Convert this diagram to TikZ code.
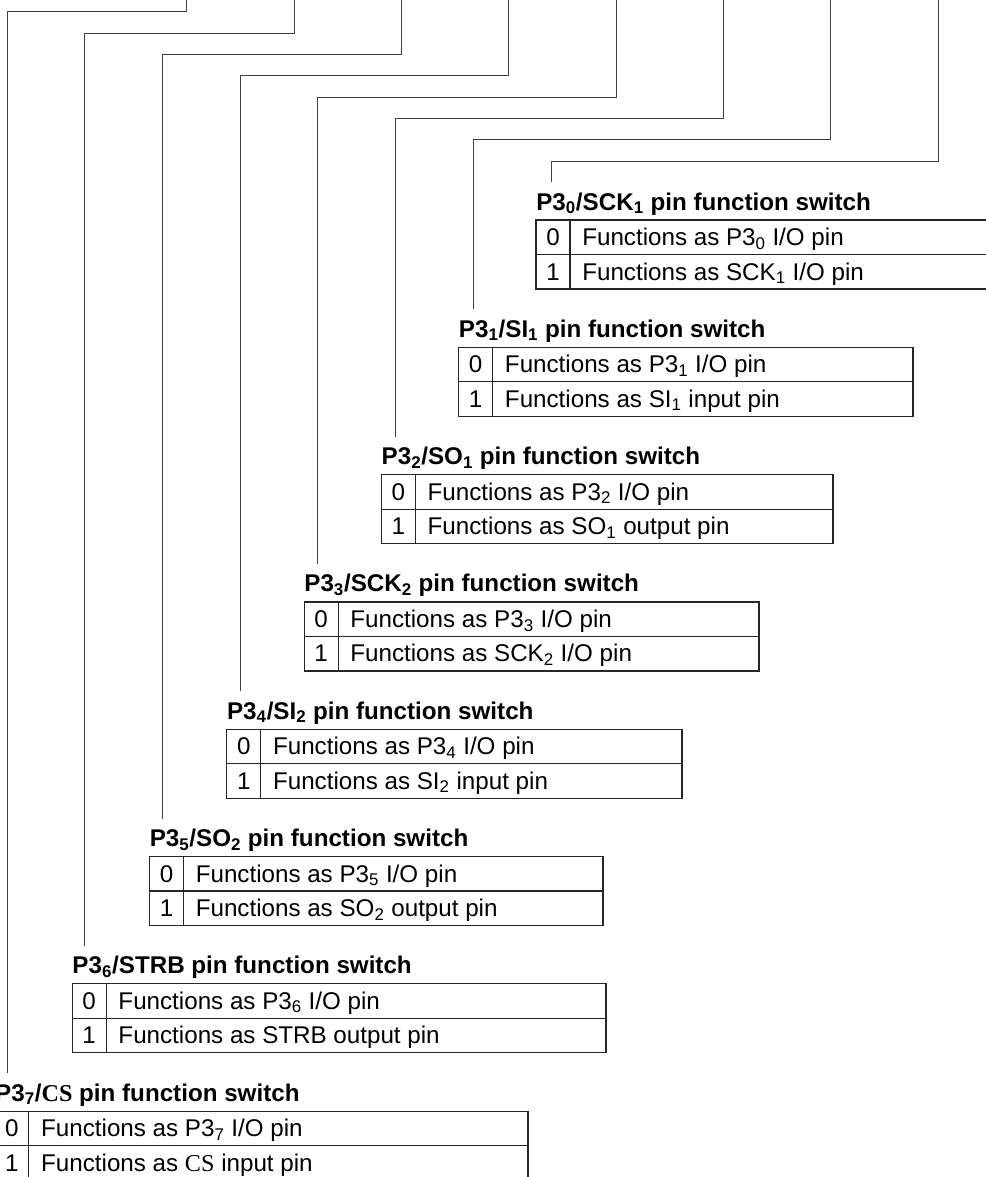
\documentclass[tikz,border=0pt]{standalone}
\usepackage{fontspec}
\setmainfont{Liberation Sans}
\newfontfamily\csfont{Liberation Serif}

\begin{document}
\begin{tikzpicture}[
    x=0.25mm, y=-0.25mm,
    every node/.style={font=\fontsize{17.2}{20}\selectfont, inner sep=0pt},
    title/.style={font=\fontsize{17.2}{20}\selectfont\bfseries, anchor=base west},
    cell/.style={anchor=base west},
    bit/.style={anchor=base},
    lead/.style={black!75, line width=0.7pt},
    grid/.style={black!85, line width=0.85pt},
]

\useasboundingbox (0,0) rectangle (985,1177);

% ============================================================
% ONE BLOCK PER BIT: leader line, title, two-row table
% ============================================================
\foreach \i/\sig/\kind/\rx in {
    0/{SCK\textsubscript{1}}/{I/O}/995,
    1/{SI\textsubscript{1}}/{input}/913,
    2/{SO\textsubscript{1}}/{output}/833,
    3/{SCK\textsubscript{2}}/{I/O}/759,
    4/{SI\textsubscript{2}}/{input}/682,
    5/{SO\textsubscript{2}}/{output}/603,
    6/{STRB}/{output}/606,
    7/{{\csfont CS}}/{input}/528} {
    \pgfmathsetmacro{\L}{536-77.3*\i}   % table left
    \pgfmathsetmacro{\T}{220+127.3*\i}  % table top
    \pgfmathsetmacro{\S}{\L+34}         % column rule
    \pgfmathsetmacro{\M}{\T+34.5}       % row rule
    \pgfmathsetmacro{\B}{\T+69}         % table bottom
    \pgfmathsetmacro{\dx}{551-77.7*\i}  % drop of the leader
    \pgfmathsetmacro{\tx}{938-107.3*\i} % leader from the register
    \pgfmathsetmacro{\hy}{161-21.3*\i}  % leader elbow

    % leader line
    \coordinate (top\i) at (\tx,0);
    \coordinate (end\i) at (\dx,\T-38);
    \draw[lead] (top\i) -- (\tx,\hy) -| (end\i);

    % title
    \node[title] (ttl\i) at (\L,\T-10) {P3\textsubscript{\i}/\sig\ pin function switch};

    % table
    \draw[grid] (\L,\T) rectangle (\rx,\B);
    \draw[grid] (\L,\M) -- (\rx,\M);
    \draw[grid] (\S,\T) -- (\S,\B);

    \node[bit] (bit\i-0) at (\L+17,\M-9) {0};
    \node[bit] (bit\i-1) at (\L+17,\B-9) {1};
    \node[cell] (fn\i-0) at (\S+12,\M-9) {Functions as P3\textsubscript{\i} I/O pin};
    \node[cell] (fn\i-1) at (\S+12,\B-9) {Functions as \sig\ \kind\ pin};
}

\end{tikzpicture}
\end{document}
